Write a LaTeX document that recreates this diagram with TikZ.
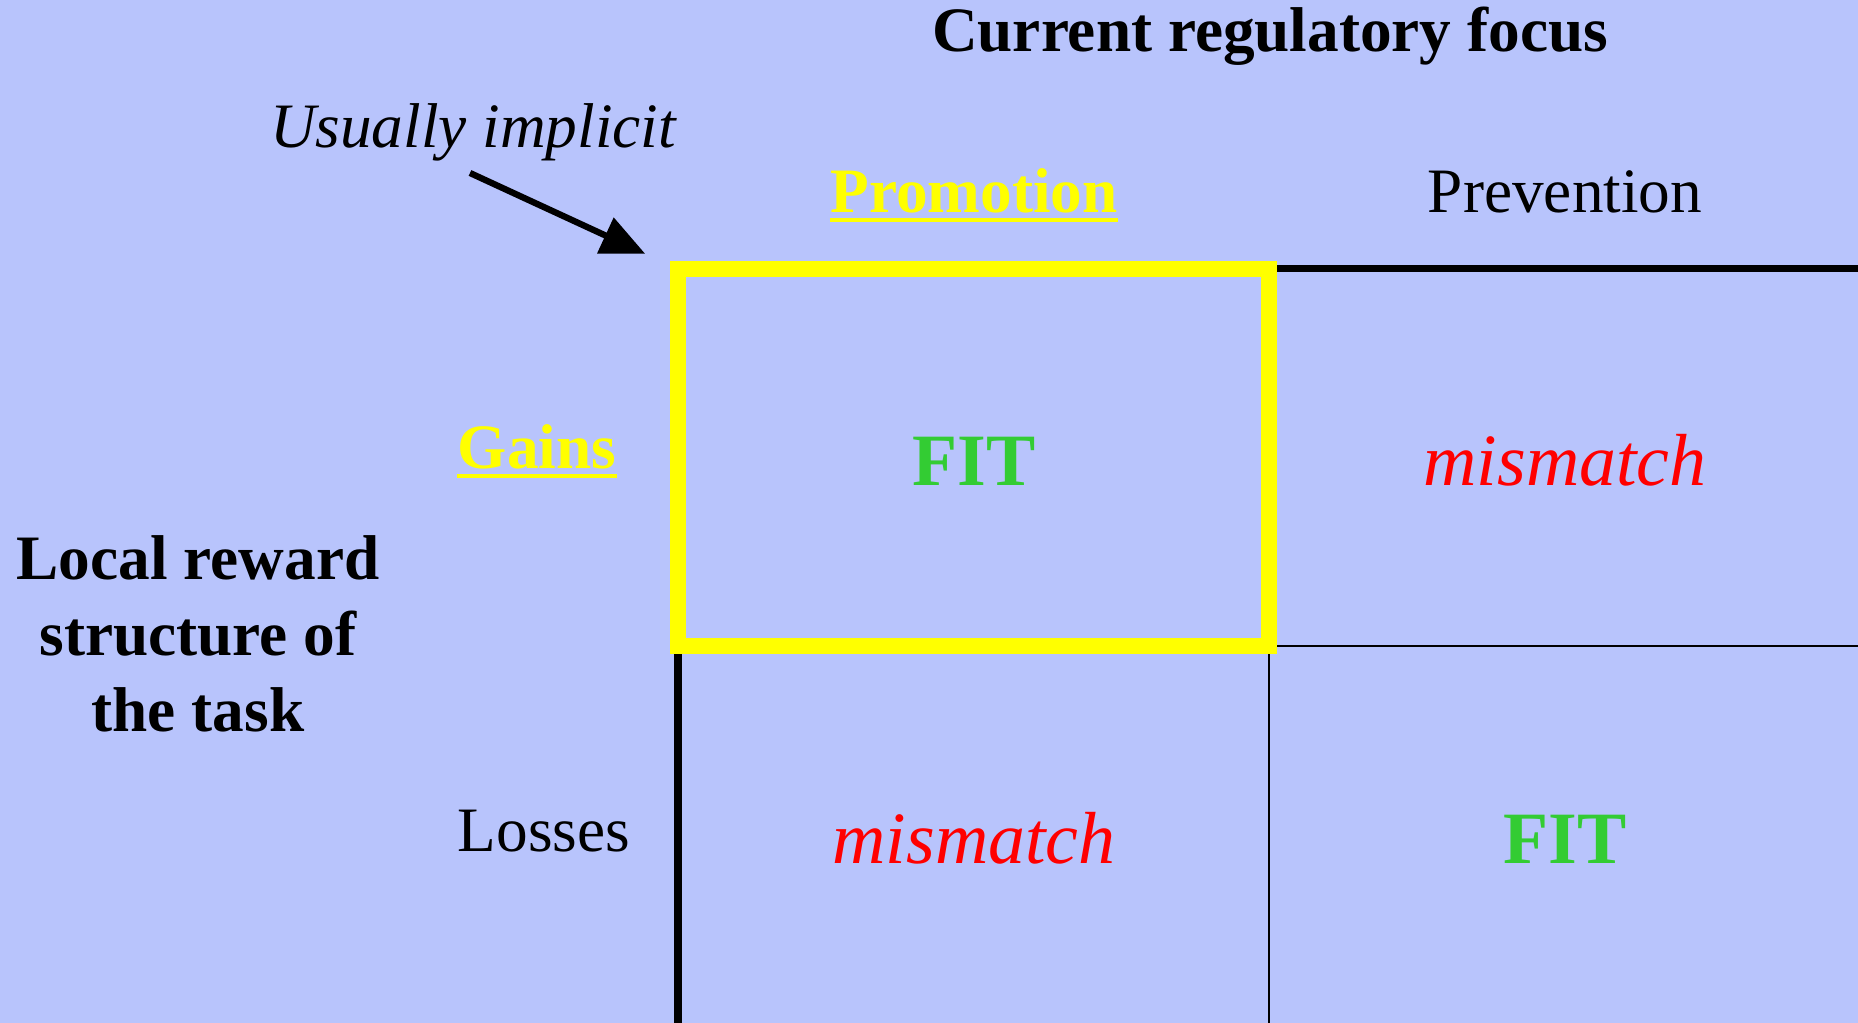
\documentclass[tikz,border=0pt]{standalone}
\usepackage{fontspec}
\setmainfont{Liberation Serif}
\usetikzlibrary{arrows.meta,positioning}
\definecolor{bgfill}{HTML}{B8C4FC}
\definecolor{fitgreen}{HTML}{33CC33}
\definecolor{hiyellow}{HTML}{FFFF00}

\begin{document}
\begin{tikzpicture}[
  txt/.style={anchor=base, inner sep=0pt, font=\fontsize{18}{21.7}\selectfont},
  head/.style={txt, font=\fontsize{18}{21.7}\selectfont\bfseries},
  pick/.style={head, text=hiyellow},
  fitcell/.style={anchor=base, inner sep=0pt, font=\fontsize{21}{25}\selectfont\bfseries, text=fitgreen},
  misscell/.style={anchor=base, inner sep=0pt, font=\fontsize{21}{25}\selectfont\itshape, text=red},
  hlbox/.style={draw=hiyellow, line width=4.8pt, minimum width=5.91cm, minimum height=3.77cm, inner sep=0pt, outer sep=0pt},
  uline/.style={hiyellow, line width=0.9pt},
  rulethick/.style={black, line width=2pt},
  rulethin/.style={black, line width=0.7pt},
  arr/.style={-{Triangle[length=4.4mm, width=3.8mm]}, line width=1.8pt, shorten >=3.6mm}
]
  \path[use as bounding box, fill=bgfill] (0,0) rectangle (18.58,10.23);

  % grid corners
  \coordinate (nw) at (6.78,7.54);
  \coordinate (ne) at (12.69,7.54);
  \coordinate (sw) at (6.78,3.77);
  \coordinate (se) at (12.69,3.77);
  \draw[rulethick] (ne) -- ++(5.89,0);
  \draw[rulethick] (sw) -- ++(0,-3.77);
  \draw[rulethin] (se) -- ++(5.89,0);
  \draw[rulethin] (se) -- ++(0,-3.77);

  \node[hlbox] (box) at (9.735,5.655) {};

  % headings
  \node[head] (focus) at (12.70,9.71) {Current regulatory focus};
  \node[pick] (promo) at (9.74,8.10) {Promotion};
  \node[txt] (prev) at (15.65,8.10) {Prevention};
  \node[pick] (gains) at (5.37,5.54) {Gains};
  \node[txt] (losses) at (5.44,1.71) {Losses};
  \node[head, anchor=center, align=center] (local) at (1.98,3.89) {Local reward\\structure of\\the task};
  \draw[uline] ([yshift=-0.7mm]promo.base west) -- ([yshift=-0.7mm]promo.base east);
  \draw[uline] ([yshift=-0.7mm]gains.base west) -- ([yshift=-0.7mm]gains.base east);

  % cells
  \node[fitcell] (fitpro) at (9.74,5.37) {FIT};
  \node[misscell] (misspre) at (15.65,5.37) {mismatch};
  \node[misscell] (misspro) at (9.74,1.59) {mismatch};
  \node[fitcell] (fitpre) at (15.65,1.59) {FIT};

  % note
  \node[txt, font=\fontsize{18}{21.7}\selectfont\itshape] (implicit) at (4.73,8.75) {Usually implicit};
  \coordinate (tail) at (4.70,8.50);
  \draw[arr] (tail) -- (box.north west);
\end{tikzpicture}
\end{document}
